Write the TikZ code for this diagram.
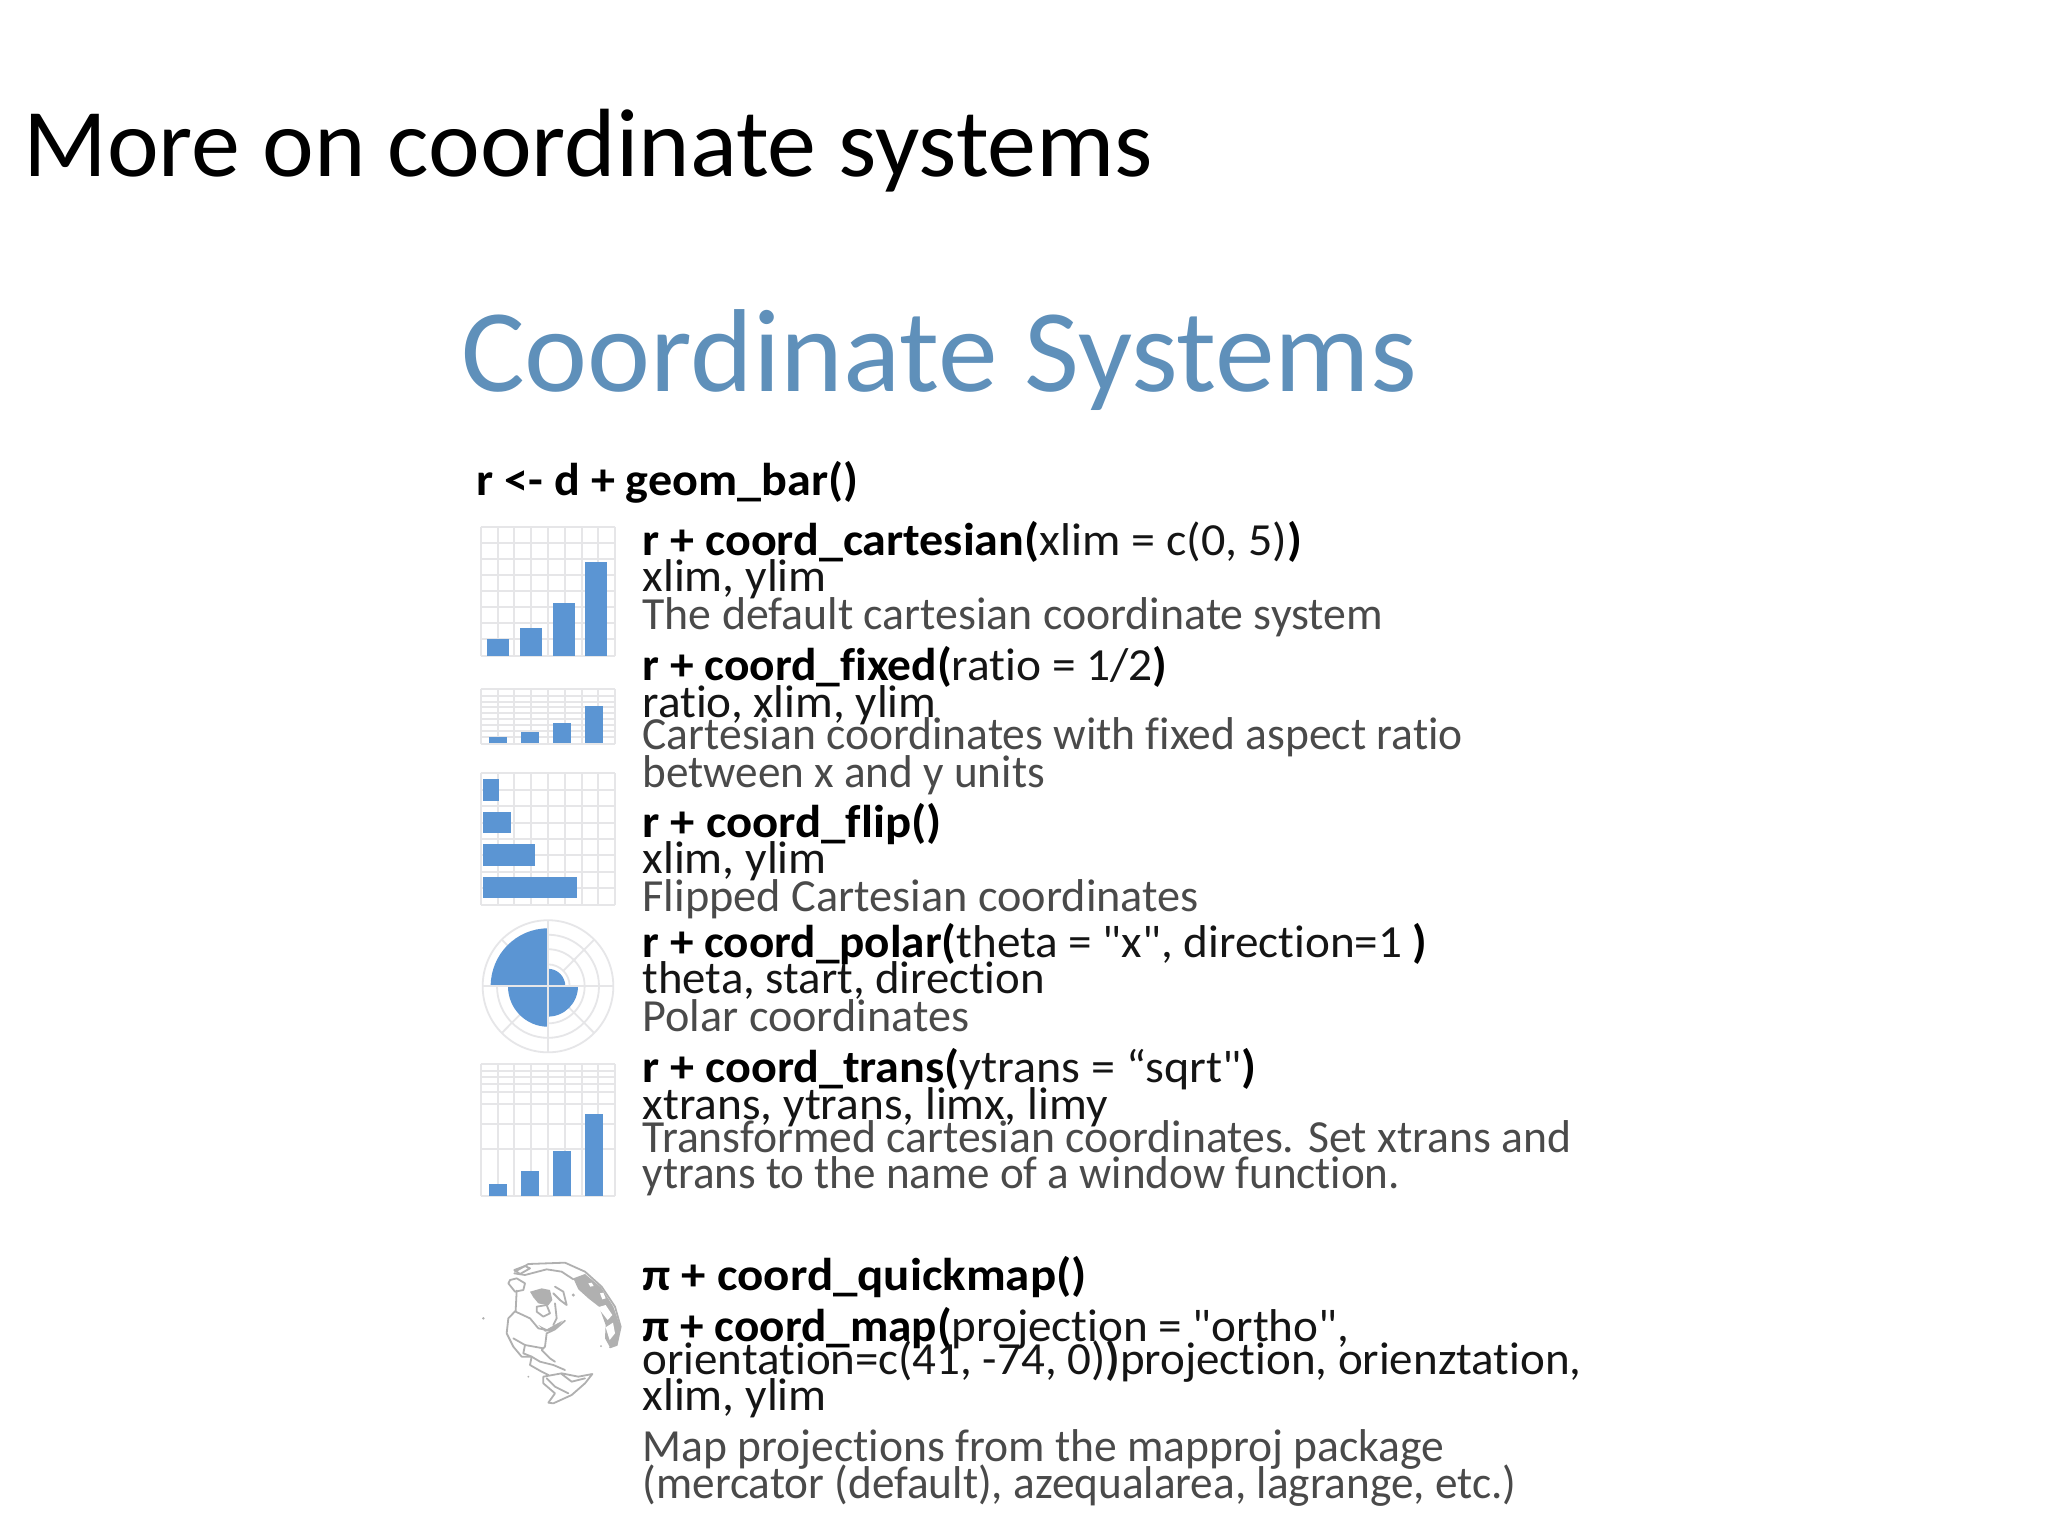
\documentclass[tikz,border=0pt]{standalone}
\usepackage{fontspec}
\newfontfamily\cf[Ligatures=NoCommon]{Carlito}
\definecolor{headblue}{HTML}{5F90BA}
\definecolor{barblue}{HTML}{5B95D3}
\definecolor{gridgray}{HTML}{E6E6E8}
\definecolor{lighttxt}{HTML}{4A4A4A}
\definecolor{midtxt}{HTML}{151515}
\definecolor{mapgray}{HTML}{B0B0B0}
\newlength\tlw
\newcommand\tl[7]{%
  \node[txt,text=#6] (#1) at ({#2*1.30612},{#3*1.30612}) {%
    \cf\fontsize{#5}{#5}\selectfont
    \settowidth\tlw{#7}%
    \pgfmathsetmacro\tlr{(#4-#2)*1.30612/\tlw}%
    \scalebox{\tlr}[1]{#7}};
}
\newcommand\gridlines[2]{%
  \foreach \v in {62,115,163,214,265,315,365,415,464} {\draw[gridline] (\v,#1) -- (\v,#2);}
}
\tikzset{
  txt/.style={anchor=base west,inner sep=0pt,outer sep=0pt},
  gridline/.style={draw=gridgray,line width=1.8pt},
  barfill/.style={fill=barblue},
  mapline/.style={draw=mapgray,line width=1.8pt,line join=round,line cap=round},
  mapfill/.style={fill=mapgray}
}
\begin{document}
\begin{tikzpicture}[x=1pt,y=-1pt]
\useasboundingbox (0,0) rectangle (2048,1536);
\fill[white] (0,0) rectangle (2048,1536);

% charts: first three
\begin{scope}[shift={(460,510)},x=0.33333pt,y=-0.33333pt]
  \gridlines{50}{438}
  \foreach \h in {50,100,148,195,243,290,340,388,438} {\draw[gridline] (62,\h) -- (464,\h);}
  \foreach \a/\b/\t in {82/148/388,181/247/353,278/344/280,376/441/156} {\fill[barfill] (\a,\t) rectangle (\b,438);}
  \gridlines{538}{703}
  \foreach \h in {538,558,575,592,610,628,645,662,680,703} {\draw[gridline] (62,\h) -- (464,\h);}
  \foreach \a/\b/\t in {86/142/682,182/238/667,278/334/638,375/430/588} {\fill[barfill] (\a,\t) rectangle (\b,698);}
  \gridlines{790}{1185}
  \foreach \h in {790,840,888,938,988,1035,1085,1135,1185} {\draw[gridline] (62,\h) -- (464,\h);}
  \foreach \r/\t/\b in {117/808/872,154/906/970,225/1003/1067,351/1100/1165} {\fill[barfill] (68,\t) rectangle (\r,\b);}
\end{scope}

% polar and transformed charts
\begin{scope}[shift={(460,900)},x=0.33333pt,y=-0.337pt]
  \coordinate (pc) at (264,256);
  \foreach \r in {196,153,110,65} {\draw[gridline] (pc) circle[radius=\r];}
  \foreach \a in {45,135,225,315} {\draw[gridline] (pc) ++(\a:65) -- ++(\a:131);}
  \fill[barfill] (pc) -- ++(270:172) arc[start angle=270,end angle=180,radius=172] -- cycle;
  \fill[barfill] (pc) -- ++(180:120) arc[start angle=180,end angle=90,radius=120] -- cycle;
  \fill[barfill] (pc) -- ++(90:90) arc[start angle=90,end angle=0,radius=90] -- cycle;
  \fill[barfill] (pc) -- ++(0:52) arc[start angle=0,end angle=-90,radius=52] -- cycle;
  \draw[gridline] (pc) ++(-196,0) -- ++(392,0);
  \draw[gridline] (pc) ++(0,-196) -- ++(0,392);
  \gridlines{487}{878}
  \foreach \h in {487,507,525,545,570,605,665,740,878} {\draw[gridline] (62,\h) -- (464,\h);}
  \foreach \a/\b/\t in {86/142/842,182/238/805,278/334/745,375/430/635} {\fill[barfill] (\a,\t) rectangle (\b,878);}
\end{scope}

% globe
\begin{scope}[shift={(475,1250)},x=0.33333pt,y=-0.33333pt]
  \fill[mapfill] (295,85) -- (330,72) -- (378,112) -- (415,170) -- (436,230) -- (426,285) -- (405,292) -- (390,265) -- (392,225) -- (372,170) -- (340,145) -- (310,118) -- cycle;
  \fill[white] (368,172) -- (392,165) -- (412,195) -- (398,210) -- cycle;
  \fill[white] (392,232) -- (414,218) -- (420,250) -- (404,270) -- cycle;
  \fill[white] (340,100) -- (350,98) -- (356,108) -- (346,110) -- cycle;
  \fill[white] (375,130) -- (385,128) -- (392,145) -- (382,148) -- cycle;
  \fill[mapfill] (165,125) -- (200,115) -- (225,120) -- (232,150) -- (220,166) -- (190,160) -- (175,142) -- cycle;
  \fill[mapfill] (190,225) -- (215,238) -- (262,212) -- (240,240) -- (210,245) -- cycle;
  \draw[mapline] (120,65) -- (160,42) -- (270,38) -- (330,65) -- (380,110) -- (420,170) -- (437,230) -- (425,285) -- (405,292);
  \draw[mapline] (118,70) -- (150,75) -- (215,58) -- (260,65) -- (295,88);
  \draw[mapline] (100,100) -- (105,90) -- (125,85) -- (150,100) -- (145,120) -- (120,125) -- cycle;
  \draw[mapline] (118,60) -- (150,48) -- (165,55) -- (135,72) -- cycle;
  \draw[mapline] (125,122) -- (122,182) -- (100,205) -- (95,250) -- (115,290) -- (140,320) -- (170,320) -- (195,335) -- (235,345) -- (270,360);
  \draw[mapline] (270,212) -- (240,238) -- (215,250) -- (210,290) -- (200,300) -- (225,325) -- (240,335);
  \draw[mapline] (122,185) -- (165,205) -- (190,235) -- (215,240);
  \draw[mapline] (115,265) -- (150,285) -- (205,295);
  \draw[mapline] (150,285) -- (145,310) -- (170,320);
  \draw[mapline] (240,110) -- (265,125) -- (275,165) -- (255,150) -- (235,130);
  \draw[mapline] (185,170) -- (215,165) -- (225,190) -- (205,200) -- (185,185) -- cycle;
  \draw[mapline] (240,160) -- (245,205) -- (235,225);
  \draw[mapline] (170,320) -- (165,345) -- (200,365) -- (220,375);
  \draw[mapline] (205,380) -- (260,370) -- (310,380) -- (352,372) -- (330,400) -- (290,435) -- (235,460) -- (220,458) -- (240,430) -- (205,400) -- cycle;
  \draw[mapline] (215,385) -- (240,410) -- (280,430);
  \draw[mapline] (260,372) -- (290,395) -- (330,385);
  \fill[mapfill] (25,205) circle[radius=4];
  \fill[mapfill] (160,380) circle[radius=3];
  \fill[mapfill] (378,288) circle[radius=3];
  \fill[mapfill] (295,135) circle[radius=5];
\end{scope}

% headings
\tl{title}{18}{135.5}{883}{97}{black}{More on coordinate systems}
\tl{panelhead}{353}{299.5}{1085}{118}{headblue}{Coordinate Systems}
\tl{geom}{365}{379}{657}{46}{black}{\textbf{r <- d + geom\_bar()}}

% text lines
\tl{ca}{492}{425}{997}{46}{black}{\textbf{r + coord\_cartesian(}{\color{midtxt}xlim = c(0, 5)}\textbf{)}}
\tl{cb}{492}{453}{633}{46}{midtxt}{xlim, ylim}
\tl{cc}{492}{482}{1059}{46}{lighttxt}{The default cartesian coordinate system}
\tl{fa}{492}{521}{894}{46}{black}{\textbf{r + coord\_fixed(}{\color{midtxt}ratio = 1/2}\textbf{)}}
\tl{fb}{492}{549}{717}{46}{midtxt}{ratio, xlim, ylim}
\tl{fc}{492}{574}{1120}{46}{lighttxt}{Cartesian coordinates with fixed aspect ratio}
\tl{fd}{492}{603}{800}{46}{lighttxt}{between x and y units}
\tl{la}{492}{641}{721}{46}{black}{\textbf{r + coord\_flip()}}
\tl{lb}{492}{669}{633}{46}{midtxt}{xlim, ylim}
\tl{lc}{492}{698}{918}{46}{lighttxt}{Flipped Cartesian coordinates}
\tl{pa}{492}{733}{1093}{46}{black}{\textbf{r + coord\_polar(}{\color{midtxt}theta = "x", direction=1 }\textbf{)}}
\tl{pb}{492}{761}{800}{46}{midtxt}{theta, start, direction}
\tl{pd}{492}{790}{742}{46}{lighttxt}{Polar coordinates}
\tl{ta}{492}{829}{962}{46}{black}{\textbf{r + coord\_trans(}{\color{midtxt}ytrans = “sqrt"}\textbf{)}}
\tl{tb}{492}{857}{848}{46}{midtxt}{xtrans, ytrans, limx, limy}
\tl{tc}{492}{882}{1203}{46}{lighttxt}{Transformed cartesian coordinates. Set xtrans and}
\tl{td}{492}{910}{1072}{46}{lighttxt}{ytrans to the name of a window function.}
\tl{qa}{492}{988}{832}{46}{black}{\textbf{π + coord\_quickmap()}}
\tl{ma}{492}{1027}{1033}{46}{black}{\textbf{π + coord\_map(}{\color{midtxt}projection = "ortho",}}
\tl{mb}{492}{1052}{1211}{46}{midtxt}{orientation=c(41, -74, 0)\textbf{)}projection, orienztation,}
\tl{mc}{492}{1080}{633}{46}{midtxt}{xlim, ylim}
\tl{md}{492}{1119}{1106}{46}{lighttxt}{Map projections from the mapproj package}
\tl{me}{492}{1147}{1161}{46}{lighttxt}{(mercator (default), azequalarea, lagrange, etc.)}
\end{tikzpicture}
\end{document}
